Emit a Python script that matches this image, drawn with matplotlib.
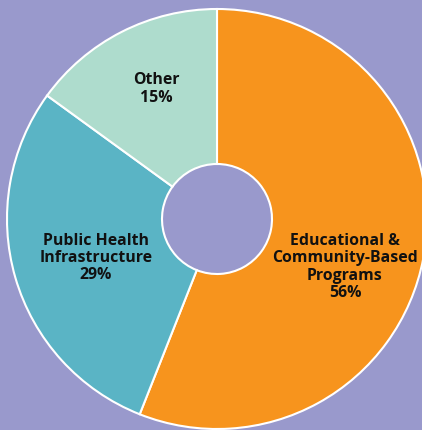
import matplotlib
matplotlib.use('Agg')
from matplotlib import pyplot as plt

# Data
categories = ['Educational &\nCommunity-Based\nPrograms', 'Public Health\nInfrastructure', 'Other']
shares = [56, 29, 15]
colors = ['#F7941D', '#5AB4C5', '#AEDCCD']

# Layout (pixel units, y up)
bg = '#9999CC'
cx, cy = 217, 211
outer_r = 210
inner_r = 55
label_offsets = [(128, -48), (-121, -39), (-61, 130)]


def main():
    fig = plt.figure(figsize=(4.22, 4.30), dpi=100, facecolor=bg)
    ax = fig.add_axes([0, 0, 1, 1])
    ax.set_facecolor(bg)

    ax.pie(shares, colors=colors, startangle=90, counterclock=False,
           center=(cx, cy), radius=outer_r,
           wedgeprops=dict(width=outer_r - inner_r, edgecolor='white', linewidth=1.5))

    for cat, val, (dx, dy) in zip(categories, shares, label_offsets):
        ax.text(cx + dx, cy + dy, f"{cat}\n{val}%", ha='center', va='center',
                fontsize=11.4, fontweight='bold', family='Open Sans',
                color='#111111', linespacing=1.12)

    ax.set_xlim(0, 422)
    ax.set_ylim(0, 430)
    ax.set_aspect('equal')
    ax.axis('off')

    fig.savefig('out.png', dpi=100, facecolor=bg)
    plt.close(fig)


if __name__ == "__main__":
    main()
